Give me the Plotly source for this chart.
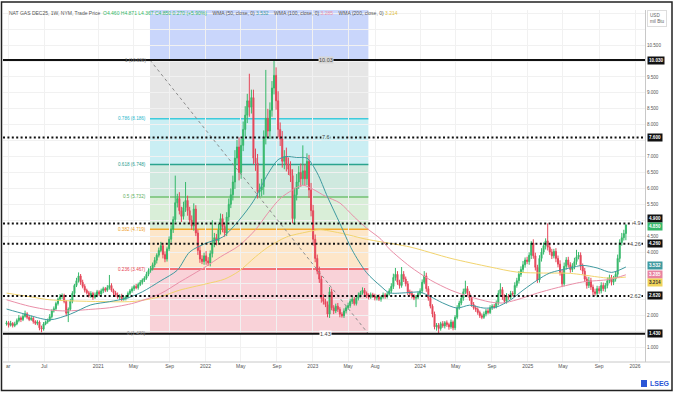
import pandas as pd
import plotly.graph_objects as go

# ---------------- DATA ----------------
first_open = 1.74
closes = [
    1.78, 1.70, 1.76, 1.69, 1.74, 1.85, 1.93, 1.88, 1.98, 2.06,
    1.95, 1.88, 1.92, 1.82, 1.76, 1.80, 1.62, 1.58, 1.74, 1.80,
    1.85, 1.97, 2.15, 2.22, 2.38, 2.52, 2.60, 2.64, 2.45, 2.08,
    2.20, 2.45, 2.70, 2.95, 3.10, 3.25, 3.05, 2.92, 2.80, 2.72,
    2.62, 2.70, 2.58, 2.65, 2.75, 2.68, 2.78, 2.85, 2.80, 2.88,
    2.95, 2.80, 2.72, 2.65, 2.58, 2.62, 2.52, 2.55, 2.60, 2.70,
    2.78, 2.85, 2.92, 2.88, 2.98, 3.05, 3.12, 3.18, 3.30, 3.42,
    3.48, 3.60, 3.74, 3.90, 4.05, 4.20, 3.92, 3.78, 4.10, 4.40,
    4.72, 5.02, 5.55, 5.68, 5.30, 5.12, 5.40, 5.62, 5.30, 5.00,
    4.82, 5.35, 4.60, 4.05, 3.78, 3.70, 3.88, 3.72, 3.66, 3.95,
    4.25, 4.45, 4.35, 4.70, 5.05, 4.80, 4.60, 5.10, 5.50, 5.80,
    6.20, 6.95, 7.30, 6.50, 7.35, 7.85, 8.30, 8.75, 8.55, 8.85,
    6.95, 6.80, 5.90, 5.95, 6.05, 7.60, 8.20, 7.80, 8.45, 9.15,
    9.55, 8.75, 7.85, 7.55, 6.85, 7.00, 6.75, 6.60, 6.40, 5.05,
    5.80, 6.20, 6.50, 6.30, 6.55, 6.30, 6.85, 5.95, 5.30, 4.40,
    3.80, 3.40, 3.15, 2.55, 2.45, 2.35, 2.05, 2.75, 2.25, 2.15,
    2.30, 2.20, 2.05, 2.00, 2.15, 2.25, 2.32, 2.45, 2.52, 2.38,
    2.55, 2.65, 2.72, 2.80, 2.70, 2.62, 2.58, 2.66, 2.62, 2.55,
    2.60, 2.52, 2.58, 2.65, 2.60, 2.68, 2.78, 2.92, 3.20, 3.30,
    3.05, 2.95, 3.30, 3.15, 3.00, 2.75, 2.70, 2.62, 2.55, 2.58,
    2.70, 2.78, 3.05, 3.25, 2.85, 2.55, 2.30, 2.05, 1.65, 1.70,
    1.60, 1.75, 1.68, 1.78, 1.72, 1.65, 1.80, 1.62, 1.95, 2.25,
    2.40, 2.55, 2.75, 2.85, 2.70, 2.55, 2.35, 2.25, 2.20, 2.10,
    2.00, 1.95, 2.05, 2.15, 2.10, 2.25, 2.30, 2.28, 2.40, 2.70,
    2.82, 2.60, 2.45, 2.62, 2.58, 2.70, 2.68, 2.95, 3.10, 3.30,
    3.45, 3.60, 3.75, 3.70, 3.90, 4.28, 3.88, 3.52, 3.12, 3.80,
    4.00, 4.20, 4.35, 4.15, 4.00, 3.88, 4.02, 3.80, 3.62, 3.35,
    3.00, 3.55, 3.75, 3.60, 3.45, 3.55, 3.70, 3.85, 3.90, 3.55,
    3.40, 3.15, 2.95, 3.10, 2.90, 2.75, 2.70, 2.85, 2.78, 2.95,
    2.85, 2.95, 3.10, 3.20, 3.05, 3.15, 3.30, 3.80, 4.30, 4.45, 4.58, 4.85,
]
wick_hi = [
    .06, .05, .08, .04, .07, .06, .09, .05, .07, .10,
    .05, .06, .08, .05, .04, .06, .05, .07, .06, .05,
    .06, .08, .05, .07, .06, .05, .08, .06, .05, .04,
    .06, .08, .07, .05, .09, .11, .06, .08, .07, .05,
    .06, .07, .05, .08, .06, .05, .07, .06, .05, .08,
    .33, .07, .05, .06, .08, .05, .07, .06, .05, .06,
    .06, .07, .05, .08, .06, .07, .05, .06, .08, .07,
    .08, .07, .10, .06, .09, .12, .08, .10, .07, .09,
    .12, .10, .85, .15, .20, .12, .18, .58, .15, .12,
    .15, .18, .12, .10, .14, .12, .10, .15, .12, .10,
    .75, .15, .12, .18, .16, .14, .12, .15, .18, .20,
    .20, .25, .22, .30, .20, .25, .28, .22, .85, .25,
    .25, .30, .28, .20, .25, .22, 1.52, .30, .25, .22,
    .48, .25, .30, .22, .25, .20, .28, .22, .25, .20,
    .22, .25, .20, .28, .80, .22, .25, .20, .22, .18,
    .15, .12, .14, .10, .12, .08, .10, .15, .10, .08,
    .08, .10, .07, .06, .08, .07, .09, .08, .10, .07,
    .07, .08, .06, .09, .07, .06, .08, .07, .06, .07,
    .06, .07, .05, .08, .06, .07, .08, .10, .12, .20,
    .10, .08, .23, .10, .08, .09, .07, .08, .06, .07,
    .07, .08, .09, .15, .10, .08, .07, .06, .08, .07,
    .07, .06, .08, .05, .07, .06, .08, .05, .07, .08,
    .07, .08, .10, .25, .08, .07, .06, .08, .07, .06,
    .06, .07, .08, .06, .07, .08, .06, .07, .08, .10,
    .20, .08, .07, .09, .06, .08, .07, .10, .09, .10,
    .10, .12, .08, .10, .09, .06, .12, .10, .08, .10,
    .12, .10, .08, .55, .12, .10, .08, .10, .09, .12,
    .10, .12, .09, .10, .08, .10, .12, .22, .10, .09,
    .09, .10, .08, .12, .09, .08, .10, .09, .08, .10,
    .09, .08, .10, .09, .08, .10, .09, .12, .10, .15, .12, .02,
]
wick_lo = [
    .05, .07, .04, .06, .05, .04, .06, .08, .05, .04,
    .06, .05, .04, .07, .05, .06, .08, .10, .05, .04,
    .05, .04, .06, .05, .07, .06, .05, .08, .06, .10,
    .28, .05, .06, .07, .05, .06, .08, .06, .07, .05,
    .05, .06, .08, .05, .07, .06, .05, .07, .06, .05,
    .06, .05, .07, .06, .05, .08, .06, .05, .07, .06,
    .05, .06, .07, .05, .06, .05, .07, .06, .05, .06,
    .07, .06, .08, .10, .07, .06, .12, .10, .08, .07,
    .10, .12, .08, .15, .12, .18, .10, .14, .16, .12,
    .12, .15, .10, .14, .12, .08, .10, .12, .09, .11,
    .12, .10, .14, .12, .15, .18, .12, .10, .14, .12,
    .18, .22, .20, .25, .20, .18, .22, .25, .30, .20,
    .20, .25, .22, .18, .20, .25, .22, .20, .25, .20,
    .20, .28, .25, .22, .20, .25, .22, .18, .20, .15,
    .20, .18, .22, .25, .20, .22, .20, .25, .18, .20,
    .12, .10, .12, .14, .10, .08, .10, .12, .08, .10,
    .07, .08, .10, .06, .07, .08, .06, .07, .08, .06,
    .06, .07, .08, .06, .07, .06, .07, .05, .06, .07,
    .07, .06, .08, .05, .07, .06, .05, .07, .08, .10,
    .08, .10, .07, .09, .08, .10, .07, .08, .06, .28,
    .06, .07, .08, .06, .10, .08, .07, .10, .08, .12,
    .17, .07, .06, .08, .07, .09, .06, .08, .07, .06,
    .06, .07, .08, .07, .09, .08, .07, .06, .08, .07,
    .07, .06, .05, .07, .06, .05, .07, .06, .05, .07,
    .08, .10, .08, .07, .08, .06, .07, .08, .07, .09,
    .08, .10, .09, .08, .10, .12, .09, .10, .09, .08,
    .10, .08, .12, .10, .09, .10, .08, .12, .10, .09,
    .10, .08, .10, .09, .10, .08, .09, .10, .08, .12,
    .10, .09, .10, .08, .09, .10, .08, .12, .09, .08,
    .08, .10, .09, .08, .10, .09, .08, .10, .12, .10, .09, .21,
]

# weighted moving averages at sample weeks
wma50_week = [0, 9, 21, 31, 41, 50, 59, 66, 75, 83, 89, 97, 105, 113, 120, 127, 132, 136, 141, 146,
              151, 156, 162, 168, 175, 182, 186, 194, 201, 206, 212, 219, 225, 232, 238, 245, 251,
              258, 264, 274, 280, 287, 294, 301]
wma50_val = [2.21, 2.05, 1.87, 2.05, 2.34, 2.44, 2.56, 2.75, 3.10, 3.43, 4.00, 4.28, 4.47, 5.00, 5.60,
             6.45, 6.90, 7.00, 6.97, 6.95, 6.48, 5.73, 4.90, 4.06, 3.35, 2.92, 2.72, 2.72, 2.74, 2.60,
             2.40, 2.24, 2.33, 2.24, 2.27, 2.50, 2.80, 3.12, 3.34, 3.50, 3.58, 3.50, 3.36, 3.53]
wma100_week = [0, 11, 21, 29, 41, 50, 62, 75, 84, 97, 104, 113, 121, 127, 133, 139, 144, 149, 155,
               162, 169, 175, 182, 186, 196, 206, 216, 225, 235, 241, 248, 258, 267, 280, 293, 301]
wma100_val = [2.50, 2.30, 2.18, 2.15, 2.20, 2.25, 2.40, 2.70, 3.05, 3.55, 3.85, 4.20, 4.70, 5.22, 5.68,
              5.95, 6.10, 5.97, 5.75, 5.54, 5.10, 4.75, 4.40, 4.10, 3.55, 3.12, 2.80, 2.60, 2.43, 2.40,
              2.50, 2.71, 2.87, 3.06, 3.14, 3.285]
wma200_week = [0, 11, 21, 41, 62, 75, 84, 97, 106, 113, 121, 127, 136, 146, 152, 162, 175, 182, 196,
               216, 235, 248, 261, 274, 287, 293, 301]
wma200_val = [2.71, 2.60, 2.50, 2.45, 2.45, 2.60, 2.80, 3.00, 3.15, 3.40, 3.85, 4.15, 4.47, 4.63, 4.70,
              4.60, 4.40, 4.32, 4.16, 3.80, 3.53, 3.37, 3.34, 3.33, 3.22, 3.18, 3.214]

x_tick_dates = ["2020-03-01", "2020-07-01", "2021-01-01", "2021-05-01", "2021-09-01", "2022-01-01",
                "2022-05-01", "2022-09-01", "2023-01-01", "2023-05-01", "2023-08-01", "2024-01-01",
                "2024-05-01", "2024-09-01", "2025-01-01", "2025-05-01", "2025-09-01", "2026-01-01"]
x_tick_text = ["ar", "Jul", "2021", "May", "Sep", "2022", "May", "Sep", "2023", "May", "Aug", "2024",
               "May", "Sep", "2025", "May", "Sep", "2026"]

y_tick_vals = [1.0, 1.5, 2.0, 2.5, 3.0, 3.5, 4.0, 4.5, 5.0, 5.5, 6.0, 6.5, 7.0, 7.5, 8.0, 8.5, 9.0,
               9.5, 10.0, 10.5, 11.0, 11.5]
y_tick_text = ["1.000", "", "2.000", "", "", "", "4.000", "4.500", "", "5.500", "6.000", "6.500",
               "7.000", "", "8.000", "8.500", "9.000", "9.500", "", "10.500", "", ""]

fib_prices = [1.430, 3.467, 4.719, 5.732, 6.748, 8.186, 10.030]
fib_labels = ["0 (1.430)", "0.236 (3.467)", "0.382 (4.719)", "0.5 (5.732)", "0.618 (6.748)",
              "0.786 (8.186)", "1 (10.030)"]
fib_start, fib_end = "2021-06-26", "2023-07-09"

solid_levels = [10.03, 1.43]
solid_texts = ["10.03", "1.43"]
dotted_levels = [7.6, 4.9, 4.26, 2.62]
dotted_texts = ["7.6", "4.9", "4.26", "2.62"]

box_vals = [10.03, 7.6, 4.9, 4.85, 4.26, 3.532, 3.285, 3.214, 2.62, 1.43]
box_texts = ["10.030", "7.600", "4.900", "4.850", "4.260", "3.532", "3.285", "3.214", "2.620", "1.430"]

header_title = "NAT GAS DEC25, 1W, NYM, Trade Price"
header_ohlc = "O4.460 H4.871 L4.367 C4.850 0.270 (+5.90%)"
ma_names = ["WMA (50, close, 0)", "WMA (100, close, 0)", "WMA (200, close, 0)"]
ma_last = ["3.532", "3.285", "3.214"]

# ---------------- STYLE ----------------
FONT = "Liberation Sans Narrow, Arial Narrow, Liberation Sans, Arial, sans-serif"
GREEN, RED = "#36b86a", "#e5475a"
MA_COLORS = ["#3f9aa0", "#ea8fa8", "#f2d46e"]
ZONE_COLORS = ["#f9d2d8", "#fde6c9", "#d9eed8", "#cfe9df", "#caeef3", "#e6e6e6"]
TOP_ZONE = "#c9d6fb"
FIB_LINE_COLORS = [None, "#ef4b57", "#f5a829", "#72c172", "#2aa48e", "#3fcbdc", None]
FIB_TEXT_COLORS = ["#8a8a8a", "#e8424f", "#ee9d1d", "#5cae5c", "#2a9d8f", "#2bb8cc", "#8a8a8a"]
BOX_BG = ["#111", "#111", "#111", GREEN, "#111", "#3f9aa0", "#e883a0", "#f0d35a", "#111", "#111"]
BOX_FG = ["white", "white", "white", "white", "white", "white", "white", "#333", "white", "white"]
BOX_SHIFT = [0, 0, 5, -2, 0, 1, 0, -5, 0, 0]

PX_L, PX_R, PX_T, PX_B = 3, 645, 10, 362


def px_x(px):
    return (px - PX_L) / (PX_R - PX_L)


def px_y(py):
    return (PX_B - py) / (PX_B - PX_T)


dates = pd.date_range("2020-02-24", periods=len(closes), freq="7D")
opens = [first_open] + closes[:-1]
highs = [max(o, c) + w for o, c, w in zip(opens, closes, wick_hi)]
lows = [min(o, c) - w for o, c, w in zip(opens, closes, wick_lo)]

fig = go.Figure()
fig.add_trace(go.Candlestick(
    x=dates, open=opens, high=highs, low=lows, close=closes,
    increasing=dict(line=dict(color=GREEN, width=1), fillcolor=GREEN),
    decreasing=dict(line=dict(color=RED, width=1), fillcolor=RED),
    whiskerwidth=0, hoverinfo="skip", showlegend=False,
))
for wk, vals, col in [(wma200_week, wma200_val, MA_COLORS[2]),
                      (wma100_week, wma100_val, MA_COLORS[1]),
                      (wma50_week, wma50_val, MA_COLORS[0])]:
    fig.add_trace(go.Scatter(x=dates[wk], y=vals, mode="lines",
                             line=dict(color=col, width=1, shape="spline", smoothing=0.8),
                             hoverinfo="skip", showlegend=False))

shapes = []
# fib zones
for k in range(len(fib_prices) - 1):
    shapes.append(dict(type="rect", xref="x", yref="y", x0=fib_start, x1=fib_end,
                       y0=fib_prices[k], y1=fib_prices[k + 1], fillcolor=ZONE_COLORS[k],
                       line=dict(width=0), layer="below"))
shapes.append(dict(type="rect", xref="x", yref="y", x0=fib_start, x1=fib_end,
                   y0=fib_prices[-1], y1=13, fillcolor=TOP_ZONE, line=dict(width=0), layer="below"))
for k, p in enumerate(fib_prices):
    if FIB_LINE_COLORS[k]:
        shapes.append(dict(type="line", xref="x", yref="y", x0=fib_start, x1=fib_end, y0=p, y1=p,
                           line=dict(color=FIB_LINE_COLORS[k], width=1.5), layer="below"))
# diagonal trend line of the fib tool
shapes.append(dict(type="line", xref="x", yref="y", x0=fib_start, x1=fib_end,
                   y0=fib_prices[-1], y1=fib_prices[0],
                   line=dict(color="#8c8c8c", width=1, dash="3px,3px")))
for p in solid_levels:
    shapes.append(dict(type="line", xref="paper", yref="y", x0=0, x1=1, y0=p, y1=p,
                       line=dict(color="#111", width=2)))
for p in dotted_levels:
    shapes.append(dict(type="line", xref="paper", yref="y", x0=0, x1=1, y0=p, y1=p,
                       line=dict(color="#111", width=2, dash="2px,2.4px")))
# frame and separators
shapes.append(dict(type="line", xref="paper", yref="paper", x0=0, x1=px_x(670), y0=0, y1=0,
                   line=dict(color="#c8c8c8", width=1)))
shapes.append(dict(type="rect", xref="paper", yref="paper", x0=px_x(1.5), x1=px_x(672),
                   y0=px_y(390.5), y1=px_y(2), line=dict(color="#222", width=1.5)))
shapes.append(dict(type="rect", xref="paper", yref="paper", x0=px_x(641), x1=px_x(647),
                   y0=px_y(387), y1=px_y(380), fillcolor="#2a55d6", line=dict(width=0)))

ann = []
hdr = (f"<span style='color:#555'>{header_title}</span>  "
       f"<span style='color:{GREEN}'>{header_ohlc}</span>    "
       f"<span style='color:#555'>{ma_names[0]}</span> <span style='color:{MA_COLORS[0]}'>{ma_last[0]}</span>    "
       f"<span style='color:#555'>{ma_names[1]}</span> <span style='color:{MA_COLORS[1]}'>{ma_last[1]}</span>    "
       f"<span style='color:#555'>{ma_names[2]}</span> <span style='color:#e0c040'>{ma_last[2]}</span>")
ann.append(dict(xref="paper", yref="paper", x=px_x(7), y=px_y(13), xanchor="left", yanchor="middle",
                text=hdr, showarrow=False, font=dict(size=5, family=FONT)))
for k, (p, t) in enumerate(zip(fib_prices, fib_labels)):
    ann.append(dict(xref="x", yref="y", x=fib_start, y=p, xanchor="right", yanchor="middle",
                    xshift=-2, text=t, showarrow=False,
                    font=dict(size=4.6, color=FIB_TEXT_COLORS[k], family=FONT)))
mid_label_date = "2023-02-14"
for p, t, bg in zip(solid_levels, solid_texts, ["#d6d6d6", "#ffffff"]):
    ann.append(dict(xref="x", yref="y", x=mid_label_date, y=p, text=t, showarrow=False,
                    font=dict(size=5.5, color="#444", family=FONT), bgcolor=bg, borderpad=0))
ann.append(dict(xref="x", yref="y", x=mid_label_date, y=dotted_levels[0], text=dotted_texts[0],
                showarrow=False, font=dict(size=5.5, color="#444", family=FONT),
                bgcolor=ZONE_COLORS[4], borderpad=0))
for p, t in zip(dotted_levels[1:], dotted_texts[1:]):
    ann.append(dict(xref="paper", yref="y", x=1, y=p, xanchor="right", xshift=-3, text=t,
                    showarrow=False, font=dict(size=5.5, color="#444", family=FONT),
                    bgcolor="white", borderpad=0))
for v, t, bg, fg, sh in zip(box_vals, box_texts, BOX_BG, BOX_FG, BOX_SHIFT):
    ann.append(dict(xref="paper", yref="y", x=1, y=v, xanchor="left", yanchor="middle", xshift=2,
                    yshift=sh, text=f"<b>{t}</b>", showarrow=False, bgcolor=bg, borderpad=1,
                    font=dict(size=4.6, color=fg, family=FONT)))
ann.append(dict(xref="paper", yref="paper", x=px_x(647), y=px_y(10), xanchor="left", yanchor="top",
                text="USD<br>mil Btu", align="left", showarrow=False, bordercolor="#dddddd",
                borderwidth=1, borderpad=2, bgcolor="white",
                font=dict(size=4.6, color="#666", family=FONT)))
ann.append(dict(xref="paper", yref="paper", x=px_x(648), y=px_y(383.5), xanchor="left",
                yanchor="middle", text="<b>LSEG</b>", showarrow=False,
                font=dict(size=7, color="#2a55d6", family=FONT)))

fig.update_layout(
    width=677, height=394, margin=dict(l=PX_L, r=677 - PX_R, t=PX_T, b=394 - PX_B),
    paper_bgcolor="white", plot_bgcolor="white", showlegend=False,
    font=dict(family=FONT, size=5, color="#555"),
    shapes=shapes, annotations=ann,
    xaxis=dict(type="date", range=["2020-02-12", "2026-02-04"], tickvals=x_tick_dates,
               ticktext=x_tick_text, showgrid=True, gridcolor="#f1f1f1", gridwidth=1,
               showline=False, ticks="", tickfont=dict(size=5, color="#555"),
               rangeslider=dict(visible=False), zeroline=False, fixedrange=True),
    yaxis=dict(side="right", range=[0.546, 11.602], tickvals=y_tick_vals, ticktext=y_tick_text,
               showgrid=True, gridcolor="#f1f1f1", gridwidth=1, showline=True,
               linecolor="#c8c8c8", linewidth=1, ticks="", zeroline=False,
               tickfont=dict(size=4.6, color="#555"), fixedrange=True),
)

fig.write_html("out.html", config={"displayModeBar": False},
               post_script="document.body.style.margin='0px';document.body.style.overflow='hidden';")
